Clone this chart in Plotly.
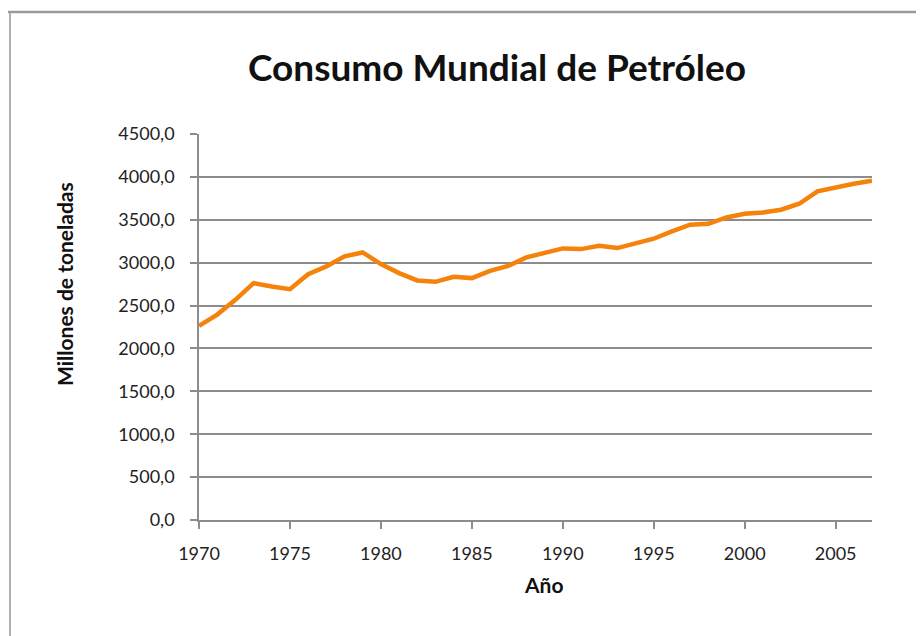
import plotly.graph_objects as go

years = list(range(1970, 2008))
consumo = [2264, 2395, 2567, 2761, 2722, 2691, 2866, 2956, 3073, 3119,
           2983, 2878, 2793, 2777, 2835, 2820, 2905, 2963, 3061, 3111,
           3166, 3158, 3197, 3170, 3228, 3279, 3364, 3442, 3453, 3527,
           3570, 3586, 3617, 3687, 3831, 3882, 3920, 3955]

title_text = "Consumo Mundial de Petróleo"
y_title = "Millones de toneladas"
x_title = "Año"

OFF = 8  # page body margin offset
W, H = 924, 636
L, R, T, B = 199 - OFF, 52 + OFF, 134 - OFF, 116 + OFF
pw, ph = W - L - R, H - T - B

def px(x):
    return (x - OFF - L) / pw

def py(y):
    return (H - B - (y - OFF)) / ph

font_family = "Lato, 'Open Sans', sans-serif"

fig = go.Figure()
fig.add_trace(go.Scatter(x=years, y=consumo, mode="lines",
                         line=dict(color="#F5820A", width=4.5), hoverinfo="x+y"))

fig.update_layout(
    width=W, height=H,
    margin=dict(l=L, r=R, t=T, b=B),
    paper_bgcolor="white", plot_bgcolor="white",
    showlegend=False,
    separators=",.",
    font=dict(family=font_family, color="#222222", size=18),
    title=dict(text="<b>" + title_text + "</b>", x=(497 - OFF) / W, xanchor="center",
               y=1 - (68 - OFF) / H, yanchor="middle",
               font=dict(size=37, color="#111111", family=font_family)),
    xaxis=dict(range=[1970, 2007], tick0=1970, dtick=5, showgrid=False,
               showline=True, linecolor="#8c8c8c", linewidth=1.5,
               ticks="outside", ticklen=7, tickcolor="#8c8c8c", tickwidth=1.5,
               zeroline=False, tickfont=dict(size=18), ticklabelstandoff=10),
    yaxis=dict(range=[0, 4500], dtick=500, tickformat=".1f", showgrid=True,
               gridcolor="#8c8c8c", gridwidth=1.5,
               showline=True, linecolor="#8c8c8c", linewidth=1.5,
               ticks="outside", ticklen=7, tickcolor="#8c8c8c", tickwidth=1.5,
               zeroline=False, tickfont=dict(size=18), ticklabelstandoff=12),
    annotations=[
        dict(text="<b>" + y_title + "</b>", xref="paper", yref="paper",
             x=px(64), y=py(284), textangle=-90, showarrow=False,
             font=dict(size=21, color="#111111"), xanchor="center", yanchor="middle"),
        dict(text="<b>" + x_title + "</b>", xref="paper", yref="paper",
             x=px(543), y=py(584), showarrow=False,
             font=dict(size=21, color="#111111"), xanchor="center", yanchor="middle"),
    ],
    shapes=[
        dict(type="line", xref="paper", yref="paper", x0=px(3), x1=px(940),
             y0=py(12), y1=py(12), line=dict(color="#9a9a9a", width=2.5)),
        dict(type="line", xref="paper", yref="paper", x0=px(10), x1=px(10),
             y0=py(13), y1=py(650), line=dict(color="#b0b0b0", width=2)),
    ],
)

fig.write_html("out.html")
